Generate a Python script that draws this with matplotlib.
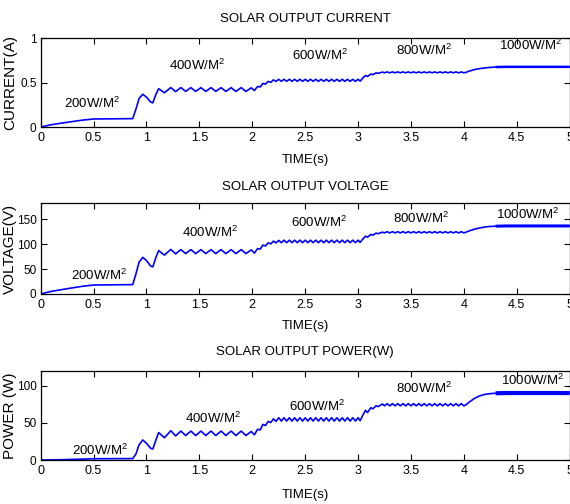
import matplotlib.pyplot as plt
import numpy as np

plt.rcParams['font.family'] = ['Liberation Sans', 'DejaVu Sans']
plt.rcParams['mathtext.fontset'] = 'custom'
plt.rcParams['mathtext.rm'] = 'Liberation Sans'
plt.rcParams['mathtext.it'] = 'Liberation Sans'
plt.rcParams['mathtext.bf'] = 'Liberation Sans'

# turning points (shared time base)
time_s = [
    0.0, 0.1, 0.25, 0.4, 0.5, 0.87,
    0.90, 0.93, 0.965, 1.0, 1.04, 1.06, 1.09, 1.115, 1.17,
    1.23, 1.275, 1.325, 1.37, 1.42, 1.465, 1.515, 1.56, 1.61, 1.655,
    1.705, 1.75, 1.80, 1.845, 1.895, 1.94, 1.99, 2.02,
    2.05, 2.075, 2.10, 2.125, 2.15, 2.175, 2.20, 2.225, 2.25,
    2.275, 2.30, 2.325, 2.35, 2.375, 2.40, 2.425, 2.45, 2.475, 2.50,
    2.525, 2.55, 2.575, 2.60, 2.625, 2.65, 2.675, 2.70, 2.725, 2.75,
    2.775, 2.80, 2.825, 2.85, 2.875, 2.90, 2.925, 2.95, 2.975, 3.00, 3.02,
    3.04, 3.07, 3.09, 3.12, 3.14, 3.17, 3.19, 3.23,
    3.25, 3.275, 3.30, 3.325, 3.35, 3.375, 3.40, 3.425, 3.45, 3.475,
    3.50, 3.525, 3.55, 3.575, 3.60, 3.625, 3.65, 3.675, 3.70, 3.725,
    3.75, 3.775, 3.80, 3.825, 3.85, 3.875, 3.90, 3.925, 3.95, 3.975, 4.00, 4.02,
    4.05, 4.10, 4.15, 4.20, 4.25, 4.30, 4.40, 5.00,
]

current_a = [
    0.0, 0.026, 0.053, 0.078, 0.090, 0.094,
    0.20, 0.32, 0.368, 0.335, 0.28, 0.272, 0.37, 0.43, 0.385,
    0.443, 0.398, 0.443, 0.40, 0.442, 0.40, 0.442, 0.40, 0.442, 0.40,
    0.442, 0.40, 0.442, 0.40, 0.442, 0.40, 0.44, 0.41,
    0.455, 0.45, 0.49, 0.482, 0.512, 0.502, 0.53, 0.512, 0.536,
    0.513, 0.536, 0.513, 0.536, 0.513, 0.536, 0.513, 0.536, 0.513, 0.536,
    0.513, 0.536, 0.513, 0.536, 0.513, 0.536, 0.513, 0.536, 0.513, 0.536,
    0.513, 0.536, 0.513, 0.536, 0.513, 0.536, 0.513, 0.536, 0.513, 0.536, 0.515,
    0.545, 0.578, 0.568, 0.595, 0.588, 0.608, 0.603, 0.617,
    0.609, 0.619, 0.609, 0.619, 0.609, 0.619, 0.609, 0.619, 0.609, 0.619,
    0.609, 0.619, 0.609, 0.619, 0.609, 0.619, 0.609, 0.619, 0.609, 0.619,
    0.609, 0.619, 0.609, 0.619, 0.609, 0.619, 0.609, 0.619, 0.609, 0.619, 0.609, 0.614,
    0.628, 0.645, 0.656, 0.664, 0.670, 0.674, 0.676, 0.676,
]

voltage_v = [
    0.0, 5.2, 10.6, 15.6, 18.0, 18.8,
    40, 64, 73.5, 67, 56, 54.4, 74, 87, 78,
    89.5, 80.5, 89, 81, 89, 81, 89, 81, 89, 81,
    89, 81, 89, 81, 89, 81, 88.5, 82,
    91, 90, 98, 96.5, 102.5, 100.5, 106, 102.5, 107.5,
    103, 108, 103, 108, 103, 108, 103, 108, 103, 108,
    103, 108, 103, 108, 103, 108, 103, 108, 103, 108,
    103, 108, 103, 108, 103, 108, 103, 108, 103, 108, 103.5,
    109, 116, 114, 119.5, 118, 122, 121, 124,
    122.5, 125, 122.5, 125, 122.5, 125, 122.5, 125, 122.5, 125,
    122.5, 125, 122.5, 125, 122.5, 125, 122.5, 125, 122.5, 125,
    122.5, 125, 122.5, 125, 122.5, 125, 122.5, 125, 122.5, 125, 122.5, 124,
    126.5, 130, 132.5, 134.5, 135.5, 136, 136.5, 136.5,
]

power_w = [
    0.0, 0.15, 0.6, 1.2, 1.7, 1.9,
    8, 20.5, 27, 22.5, 15.7, 14.8, 27.4, 37, 30,
    39.5, 32.5, 39, 33, 39, 33, 39, 33, 39, 33,
    39, 33, 39, 33, 39, 33, 38.5, 34,
    41.4, 40.5, 48, 46.5, 52, 50.5, 55.5, 52, 57,
    52.5, 57, 52.5, 57, 52.5, 57, 52.5, 57, 52.5, 57,
    52.5, 57, 52.5, 57, 52.5, 57, 52.5, 57, 52.5, 57,
    52.5, 57, 52.5, 57, 52.5, 57, 52.5, 57, 52.5, 57, 53,
    59, 67, 64, 70.5, 69, 73, 72, 75.5,
    73, 76, 73, 76, 73, 76, 73, 76, 73, 76,
    73, 76, 73, 76, 73, 76, 73, 76, 73, 76,
    73, 76, 73, 76, 73, 76, 73, 76, 73, 76, 73, 74.5,
    78, 83, 86.5, 88.5, 89.5, 90, 90.3, 90.3,
]

irradiance = [200, 400, 600, 800, 1000]
xticks = [0, 0.5, 1, 1.5, 2, 2.5, 3, 3.5, 4, 4.5, 5]
xtick_labels = ['0', '0.5', '1', '1.5', '2', '2.5', '3', '3.5', '4', '4.5', '5']


def panel(rect, y, title, title_y, ylabel, ylim, yticks, ytick_labels,
          text_xy, xlabel_y, band_lw):
    ax = fig.add_axes(rect)
    t = np.array(time_s)
    y = np.array(y)
    ax.plot(t, y, color='#0000ff', linewidth=1.2)
    # fast switching ripple on the last plateau shows as a thick band
    late = t >= 4.3
    ax.plot(t[late], y[late], color='#0000ff', linewidth=band_lw, solid_capstyle='butt')
    ax.set_xlim(0, 5)
    ax.set_ylim(*ylim)
    ax.set_xticks(xticks)
    ax.set_xticklabels(xtick_labels)
    ax.set_yticks(yticks)
    ax.set_yticklabels(ytick_labels)
    ax.tick_params(direction='in', top=True, right=True, length=4, width=0.8, pad=3.5)
    ax.tick_params(axis='x', labelsize=9)
    ax.tick_params(axis='y', labelsize=8.5, pad=3)
    for s in ax.spines.values():
        s.set_linewidth(0.9)
    ax.set_title(title, fontsize=9.5, y=title_y, va='center', pad=0)
    ax.set_xlabel('TIME(s)', fontsize=9.5, va='center')
    ax.xaxis.set_label_coords(0.5, xlabel_y)
    ax.set_ylabel(ylabel, fontsize=11, va='center')
    ax.yaxis.set_label_coords(-0.058, 0.5)
    for g, (tx, ty) in zip(irradiance, text_xy):
        ax.text(tx, ty, f'{g}W/M$^2$', fontsize=9.5, ha='center', va='baseline')
    return ax


fig = plt.figure(figsize=(5.7, 5.04), dpi=100)

panel([0.0714, 0.748, 0.928, 0.1766], current_a, 'SOLAR OUTPUT CURRENT', 1.21,
      'CURRENT(A)', (0, 1), [0, 0.5, 1], ['0', '0.5', '1'],
      [(0.485, 0.213), (1.48, 0.64), (2.64, 0.753), (3.62, 0.81), (4.63, 0.865)],
      -0.37, 1.8)

panel([0.0714, 0.4167, 0.928, 0.18], voltage_v, 'SOLAR OUTPUT VOLTAGE', 1.18,
      'VOLTAGE(V)', (0, 182), [0, 50, 100, 150], ['0', '50', '100', '150'],
      [(0.55, 28), (1.6, 115), (2.63, 135), (3.6, 142.6), (4.6, 150.6)],
      -0.355, 2.2)

panel([0.0714, 0.0873, 0.928, 0.1766], power_w, 'SOLAR OUTPUT POWER(W)', 1.21,
      'POWER (W)', (0, 120), [0, 50, 100], ['0', '50', '100'],
      [(0.56, 6.7), (1.63, 49.8), (2.61, 66), (3.62, 90.6), (4.65, 101)],
      -0.39, 3.0)

fig.savefig('out.png', dpi=100)
